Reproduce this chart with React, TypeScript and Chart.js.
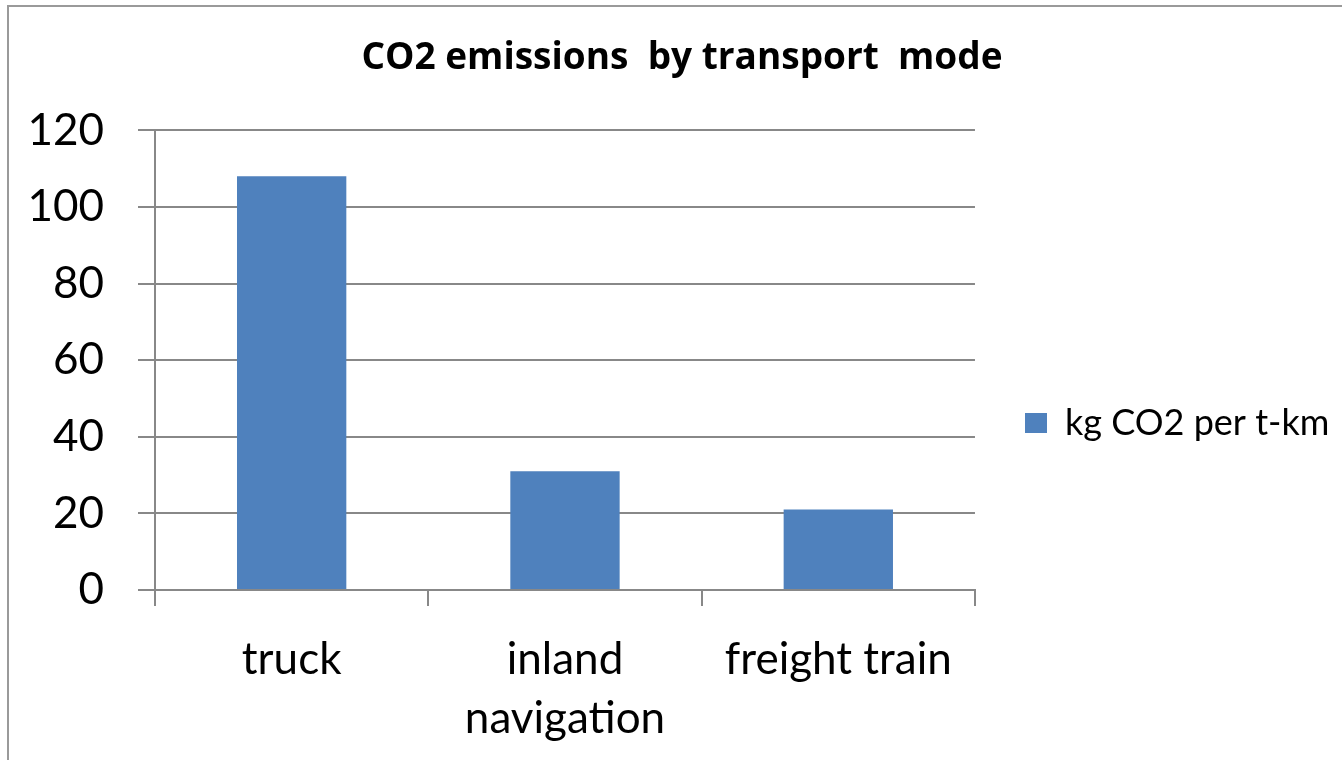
import React, { useEffect, useRef } from "react";
import { Chart, registerables } from "chart.js";

Chart.register(...registerables);

const categories: (string | string[])[] = ["truck", ["inland", "navigation"], "freight train"];
const seriesLabel = "kg CO2 per t-km";
const seriesValues = [108, 31, 21];
const yTicks = [0, 20, 40, 60, 80, 100, 120];
const titleText = "CO2 emissions  by transport  mode";

const FONT = "Lato, 'Open Sans', sans-serif";
const TITLE_FONT = "'Open Sans', Lato, sans-serif";
const GRAY = "#888888";
const BLUE = "#4F81BD";

const borderPlugin = {
  id: "outerBorder",
  beforeDraw(chart: any) {
    const ctx = chart.ctx;
    ctx.save();
    ctx.strokeStyle = "#9a9a9a";
    ctx.lineWidth = 2;
    ctx.strokeRect(8, 6, chart.width + 20, chart.height + 20);
    ctx.restore();
  },
};

const boxShiftPlugin = {
  id: "boxShift",
  afterLayout(chart: any) {
    const lg = chart.legend;
    if (lg) {
      const mid = (lg.top + lg.bottom) / 2;
      const d = 423 - mid;
      lg.top += d;
      lg.bottom += d;
      lg.right = chart.width;
      lg.width = lg.right - lg.left;
      lg.maxWidth = 2000;
    }
    const tt = chart.titleBlock;
    if (tt) {
      const c = (tt.left + tt.right) / 2;
      const d = 682 - c;
      tt.left += d;
      tt.right += d;
    }
  },
};

export default function App() {
  const ref = useRef<HTMLCanvasElement>(null);
  useEffect(() => {
    if (!ref.current) return;
    const chart = new Chart(ref.current, {
      type: "bar",
      data: {
        labels: categories,
        datasets: [
          {
            label: seriesLabel,
            data: seriesValues,
            backgroundColor: BLUE,
            borderWidth: 0,
            categoryPercentage: 0.4,
            barPercentage: 1,
          },
        ],
      },
      options: {
        animation: false,
        responsive: true,
        maintainAspectRatio: false,
        layout: { padding: { left: 8, right: 44.7, top: 0, bottom: 0 } },
        plugins: {
          title: {
            display: true,
            text: titleText,
            color: "#000",
            font: { family: TITLE_FONT, size: 37, weight: "bold", lineHeight: 1.2 },
            padding: { top: 36, bottom: 50 },
          },
          legend: {
            position: "right",
            labels: {
              color: "#000",
              font: { family: FONT, size: 36 },
              boxWidth: 22,
              boxHeight: 20,
              padding: 50,
            },
          },
          tooltip: { enabled: false },
        },
        scales: {
          x: {
            grid: {
              offset: true,
              drawOnChartArea: false,
              drawTicks: true,
              tickLength: 16,
              color: GRAY,
              lineWidth: 2,
            },
            border: { color: GRAY, width: 2 },
            ticks: {
              color: "#000",
              font: { family: FONT, size: 44, lineHeight: 1.35 },
              padding: 24,
              maxRotation: 0,
              autoSkip: false,
            },
            afterFit(s: any) {
              s.height = 170;
            },
          },
          y: {
            min: 0,
            max: 120,
            afterBuildTicks(s: any) {
              s.ticks = yTicks.map((v) => ({ value: v }));
            },
            grid: {
              color: GRAY,
              lineWidth: 2,
              tickLength: 17,
            },
            border: { color: GRAY, width: 2 },
            ticks: {
              color: "#000",
              font: { family: FONT, size: 44 },
              padding: 34,
            },
            afterFit(s: any) {
              s.width = 147;
            },
          },
        },
      },
      plugins: [borderPlugin, boxShiftPlugin],
    } as any);
    return () => chart.destroy();
  }, []);
  return (
    <div style={{ position: "fixed", left: 0, top: 0, width: 1342, height: 760, background: "#fff" }}>
      <canvas ref={ref} />
    </div>
  );
}
